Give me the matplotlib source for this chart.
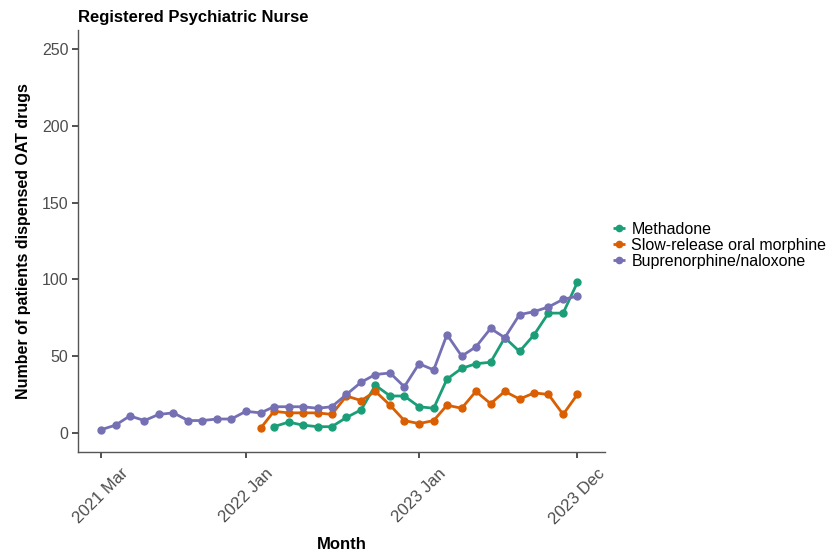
import matplotlib
matplotlib.use("Agg")
import matplotlib.pyplot as plt
import matplotlib.dates as mdates
import pandas as pd

plt.rcParams['font.family'] = ['Liberation Sans', 'DejaVu Sans']

# Monthly series
months_bup = pd.date_range("2021-03-01", "2023-12-01", freq="MS")
months_srom = pd.date_range("2022-02-01", "2023-12-01", freq="MS")
months_meth = pd.date_range("2022-03-01", "2023-12-01", freq="MS")

methadone = [4, 7, 5, 4, 4, 10, 15, 31, 24, 24,
             17, 16, 35, 42, 45, 46, 62, 53, 64, 78, 78, 98]
srom = [3, 14, 13, 13, 13, 12, 24, 21, 27, 18, 8,
        6, 8, 18, 16, 27, 19, 27, 22, 26, 25, 12, 25]
bup_nal = [2, 5, 11, 8, 12, 13, 8, 8, 9, 9,
           14, 13, 17, 17, 17, 16, 17, 25, 33, 38, 39, 30,
           45, 41, 64, 50, 56, 68, 62, 77, 79, 82, 87, 89]

series_names = ["Methadone", "Slow-release oral morphine", "Buprenorphine/naloxone"]
colors = ["#1B9E77", "#D95F02", "#7570B3"]

tick_dates = pd.to_datetime(["2021-03-01", "2022-01-01", "2023-01-01", "2023-12-01"])
tick_labels = ["2021 Mar", "2022 Jan", "2023 Jan", "2023 Dec"]
y_ticks = [0, 50, 100, 150, 200, 250]

W, H = 836, 556
fig = plt.figure(figsize=(W / 100, H / 100), dpi=100)
ax = fig.add_axes([78 / W, (H - 452) / H, (605 - 78) / W, (452 - 30) / H])

for x, y, name, c in zip([months_meth, months_srom, months_bup],
                         [methadone, srom, bup_nal], series_names, colors):
    ax.plot(x, y, color=c, lw=2.0, marker="o", ms=5, label=name,
            solid_capstyle="butt")

ax.set_ylim(-12.5, 262.5)
x0 = mdates.date2num(pd.Timestamp("2021-03-01"))
x1 = mdates.date2num(pd.Timestamp("2023-12-01"))
span = x1 - x0
ax.set_xlim(x0 - 0.048 * span, x1 + 0.058 * span)

ax.set_yticks(y_ticks)
ax.set_xticks(mdates.date2num(tick_dates))
ax.set_xticklabels(tick_labels, rotation=45, ha="center", va="top")

for s in ["top", "right"]:
    ax.spines[s].set_visible(False)
for s in ["left", "bottom"]:
    ax.spines[s].set_color("#555555")
    ax.spines[s].set_linewidth(1.0)
ax.tick_params(axis="both", colors="#333333", labelcolor="#4D4D4D",
               length=4, width=1.2)
ax.tick_params(axis="y", labelsize=11.5, pad=3)
ax.tick_params(axis="x", labelsize=12, pad=6)

ax.set_xlabel("Month", fontsize=12, fontweight="bold", labelpad=7)
ax.set_ylabel("Number of patients dispensed OAT drugs", fontsize=11.5,
              fontweight="bold", labelpad=8)
ax.set_title("Registered Psychiatric Nurse", fontsize=12, fontweight="bold",
             loc="left", pad=5.5)

leg = ax.legend(loc="center left", bbox_to_anchor=(1.0, 0.49), frameon=False,
                fontsize=11.5, handlelength=0.75, handletextpad=0.4,
                labelspacing=0.05, borderaxespad=0.1)
for line in leg.get_lines():
    line.set_linewidth(2.0)
    line.set_markersize(4.5)

fig.savefig("out.png", dpi=100, facecolor="white")
